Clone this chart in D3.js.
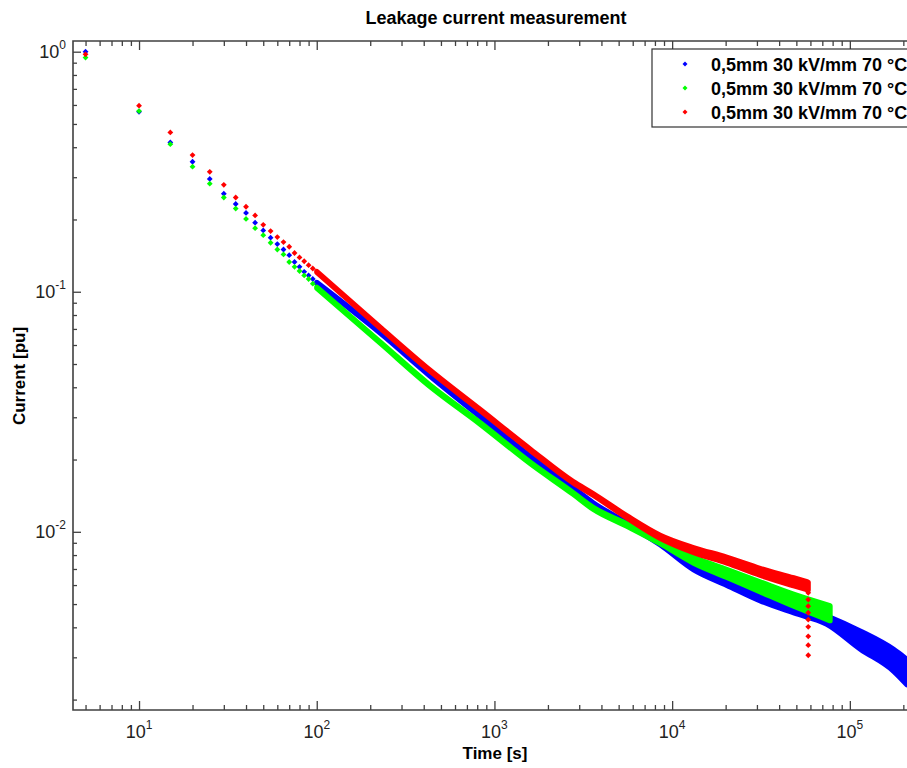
<!DOCTYPE html>
<html>
<head>
<meta charset="utf-8">
<script src="https://cdn.jsdelivr.net/npm/d3@7"></script>
<style>
body { margin: 0; background: #fff; }
svg { display: block; font-family: "Liberation Sans", Arial, sans-serif; }
</style>
</head>
<body>
<svg id="chart" width="907" height="768"></svg>
<script>
var seriesNames = ['0,5mm 30 kV/mm 70 \u00b0C', '0,5mm 30 kV/mm 70 \u00b0C', '0,5mm 30 kV/mm 70 \u00b0C'];
var seriesColors = ['#0000ff', '#00ff00', '#ff0000'];

// first samples, 5 s apart (discrete markers)
var earlyT = [5, 10, 15, 20, 25, 30, 35, 40, 45, 50, 55, 60, 65, 70, 75, 80, 85, 90, 95];
var blueEarly = [1.0, 0.562, 0.419, 0.348, 0.295, 0.256, 0.232, 0.213, 0.194, 0.180, 0.168, 0.158, 0.150, 0.142, 0.133, 0.127, 0.121, 0.117, 0.113];
var greenEarly = [0.945, 0.566, 0.412, 0.332, 0.282, 0.247, 0.222, 0.201, 0.184, 0.172, 0.160, 0.150, 0.143, 0.133, 0.127, 0.122, 0.117, 0.113, 0.108];
var redEarly = [0.975, 0.596, 0.461, 0.371, 0.316, 0.279, 0.247, 0.226, 0.208, 0.190, 0.179, 0.169, 0.161, 0.154, 0.145, 0.139, 0.134, 0.129, 0.125];

// dense part: time, centre value, noise spread (multiplicative)
var blueT = [100, 230, 430, 830, 1600, 2770, 3600, 5560, 8580, 13200, 20300, 31300, 48300, 74100, 114400, 175800, 210000];
var blueV = [0.109, 0.0671, 0.0450, 0.0303, 0.0205, 0.0152, 0.01313, 0.01084, 0.00895, 0.00715, 0.00619, 0.00536, 0.00480, 0.00429, 0.00354, 0.00292, 0.00260];
var blueS = [1.004, 1.004, 1.004, 1.004, 1.005, 1.005, 1.006, 1.008, 1.015, 1.029, 1.034, 1.039, 1.045, 1.04, 1.09, 1.11, 1.13];

var greenT = [100, 230, 430, 830, 1600, 2770, 3600, 5560, 8580, 13200, 20300, 31300, 48300, 77400];
var greenV = [0.104, 0.0610, 0.0408, 0.0283, 0.0193, 0.01445, 0.01252, 0.01067, 0.00908, 0.00762, 0.00671, 0.0059, 0.00519, 0.00458];
var greenS = [1.005, 1.006, 1.007, 1.007, 1.007, 1.008, 1.01, 1.012, 1.019, 1.029, 1.039, 1.049, 1.059, 1.075];

var redT = [100, 230, 430, 830, 1600, 2770, 3600, 5560, 8580, 13200, 20300, 31300, 48300, 58300];
var redV = [0.121, 0.0704, 0.0472, 0.0322, 0.0219, 0.0161, 0.0143, 0.01155, 0.00953, 0.00839, 0.00762, 0.00681, 0.00619, 0.00594];
var redS = [1.004, 1.004, 1.005, 1.005, 1.006, 1.007, 1.008, 1.01, 1.015, 1.024, 1.029, 1.034, 1.039, 1.039];

// red samples after switch-off
var redDropT = [58305, 58310, 58315, 58320, 58325, 58330, 58335, 58340, 58345];
var redDropV = [0.00557, 0.00522, 0.00490, 0.00460, 0.00431, 0.00402, 0.00367, 0.00337, 0.00306];

var xMajor = [10, 100, 1000, 10000, 100000];
var yMajor = [0.01, 0.1, 1];

var svg = d3.select('#chart');
var pLeft = 73, pTop = 41, pRight = 919, pBottom = 710;
var axisColor = '#404040';

var x = d3.scaleLog().domain([4.25, 2.45e5]).range([pLeft, pRight]);
var y = d3.scaleLog().domain([1.81e-3, 1.108]).range([pBottom, pTop]);

function zip(ts, vs, ss) {
    return ts.map(function (t, i) { return { t: t, v: vs[i], s: ss ? ss[i] : 1 }; });
}

var series = [
    { early: zip(earlyT, blueEarly), dense: zip(blueT, blueV, blueS), extra: [] },
    { early: zip(earlyT, greenEarly), dense: zip(greenT, greenV, greenS), extra: [] },
    { early: zip(earlyT, redEarly), dense: zip(redT, redV, redS), extra: zip(redDropT, redDropV) }
];

var diamond = 'M0,-2.9L2.9,0L0,2.9L-2.9,0Z';

var band = d3.area()
    .x(function (d) { return x(d.t); })
    .y0(function (d) { return y(d.v / d.s); })
    .y1(function (d) { return y(d.v * d.s); })
    .curve(d3.curveMonotoneX);

var plot = svg.append('g').attr('class', 'plot');
series.forEach(function (s, i) {
    var g = plot.append('g').attr('fill', seriesColors[i]);
    g.append('path')
        .datum(s.dense)
        .attr('d', band)
        .attr('stroke', seriesColors[i])
        .attr('stroke-width', 5.2)
        .attr('stroke-linejoin', 'round')
        .attr('stroke-linecap', 'round');
    g.selectAll('path.pt')
        .data(s.early.concat(s.extra))
        .join('path')
        .attr('class', 'pt')
        .attr('d', diamond)
        .attr('transform', function (d) { return 'translate(' + x(d.t) + ',' + y(d.v) + ')'; });
});

// axes: majors + minors, ticks pointing inward
var xMinor = x.ticks().filter(function (d) { return xMajor.indexOf(d) < 0; });
var yMinor = y.ticks().filter(function (d) { return Math.abs(Math.log10(d) - Math.round(Math.log10(d))) > 1e-6; });

function tickGroup(axis, tr) {
    var g = svg.append('g').attr('transform', tr).attr('color', axisColor);
    g.call(axis.tickFormat('').tickSizeOuter(0));
    g.select('.domain').remove();
    g.selectAll('line').attr('stroke-width', 1.3);
    return g;
}

tickGroup(d3.axisBottom(x).tickValues(xMajor).tickSizeInner(-9), 'translate(0,' + pBottom + ')');
tickGroup(d3.axisBottom(x).tickValues(xMinor).tickSizeInner(-5), 'translate(0,' + pBottom + ')');
tickGroup(d3.axisTop(x).tickValues(xMajor).tickSizeInner(-9), 'translate(0,' + pTop + ')');
tickGroup(d3.axisTop(x).tickValues(xMinor).tickSizeInner(-5), 'translate(0,' + pTop + ')');
tickGroup(d3.axisLeft(y).tickValues(yMajor).tickSizeInner(-8), 'translate(' + pLeft + ',0)');
tickGroup(d3.axisLeft(y).tickValues(yMinor).tickSizeInner(-4), 'translate(' + pLeft + ',0)');

// frame
svg.append('path')
    .attr('d', 'M' + pRight + ',' + pTop + 'H' + pLeft + 'V' + pBottom + 'H' + pRight)
    .attr('fill', 'none')
    .attr('stroke', axisColor)
    .attr('stroke-width', 1.6);

// tick labels 10^n
svg.append('g').selectAll('text')
    .data(xMajor)
    .join('text')
    .attr('x', function (d) { return x(d); })
    .attr('y', 738)
    .attr('text-anchor', 'middle')
    .attr('font-size', 18)
    .attr('fill', '#222')
    .each(function (d) {
        var t = d3.select(this);
        t.append('tspan').text('10');
        t.append('tspan').attr('dy', -9).attr('font-size', 12).text(Math.round(Math.log10(d)));
    });

svg.append('g').selectAll('text')
    .data(yMajor)
    .join('text')
    .attr('x', 66)
    .attr('y', function (d) { return y(d) + 6.5; })
    .attr('text-anchor', 'end')
    .attr('font-size', 18)
    .attr('fill', '#222')
    .each(function (d) {
        var t = d3.select(this);
        t.append('tspan').text('10');
        t.append('tspan').attr('dy', -9).attr('font-size', 12).text(Math.round(Math.log10(d)));
    });

// titles
svg.append('text')
    .attr('x', 496).attr('y', 24)
    .attr('text-anchor', 'middle')
    .attr('font-size', 18)
    .attr('font-weight', 'bold')
    .text('Leakage current measurement');

svg.append('text')
    .attr('x', 495).attr('y', 759)
    .attr('text-anchor', 'middle')
    .attr('font-size', 17)
    .attr('font-weight', 'bold')
    .text('Time [s]');

svg.append('text')
    .attr('transform', 'translate(25,376) rotate(-90)')
    .attr('text-anchor', 'middle')
    .attr('font-size', 17)
    .attr('font-weight', 'bold')
    .text('Current [pu]');

// legend
var legend = svg.append('g').attr('class', 'legend');
legend.append('rect')
    .attr('x', 652).attr('y', 49)
    .attr('width', 300).attr('height', 78)
    .attr('fill', '#fff')
    .attr('stroke', '#333')
    .attr('stroke-width', 1.2);
var rows = legend.selectAll('g.row')
    .data(seriesNames)
    .join('g')
    .attr('class', 'row')
    .attr('transform', function (d, i) { return 'translate(0,' + (64 + i * 24) + ')'; });
rows.append('path')
    .attr('d', 'M0,-2.5L2.5,0L0,2.5L-2.5,0Z')
    .attr('transform', 'translate(685,0)')
    .attr('fill', function (d, i) { return seriesColors[i]; });
rows.append('text')
    .attr('x', 711).attr('y', 6.5)
    .attr('font-size', 18)
    .attr('font-weight', 'bold')
    .text(function (d) { return d; });
</script>
</body>
</html>
